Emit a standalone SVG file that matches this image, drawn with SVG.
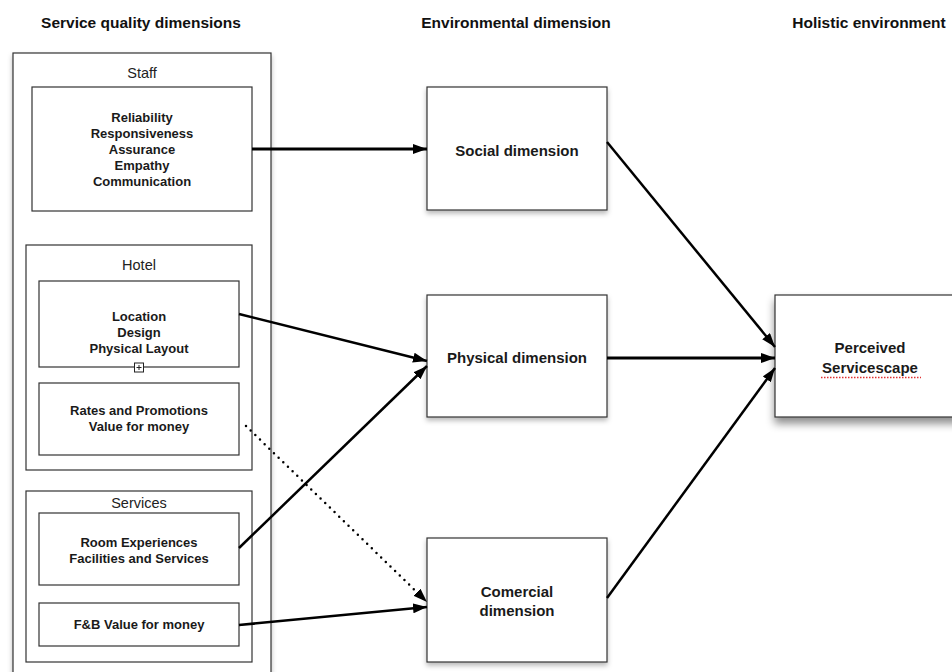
<svg xmlns="http://www.w3.org/2000/svg" width="952" height="672" viewBox="0 0 952 672">
  <style>
    .head { font-family: "Liberation Sans", Arial, sans-serif; font-size: 15.5px; font-weight: bold; fill: #111; text-anchor: middle; }
    .grp  { font-family: "Liberation Sans", Arial, sans-serif; font-size: 14.5px; fill: #222; text-anchor: middle; }
    .item { font-family: "Liberation Sans", Arial, sans-serif; font-size: 13px; font-weight: bold; fill: #1a1a1a; text-anchor: middle; }
    .dim  { font-family: "Liberation Sans", Arial, sans-serif; font-size: 15px; font-weight: bold; fill: #1a1a1a; text-anchor: middle; }
    .box  { fill: #fff; stroke: #333; stroke-width: 1.2; }
    .shadow { filter: url(#soft); }
    .deep { filter: url(#deep); }
    .link { fill: none; stroke: #000; stroke-width: 2.5; marker-end: url(#arrow); }
    .thick { stroke-width: 3; }
    .dotted { fill: none; stroke: #000; stroke-width: 2.5; stroke-linecap: round; stroke-dasharray: 0 6.5; marker-end: url(#arrow); }
  </style>
  <defs>
    <filter id="soft" x="-10%" y="-10%" width="130%" height="130%">
      <feDropShadow dx="0" dy="3" stdDeviation="2.5" flood-color="#000" flood-opacity="0.28"/>
    </filter>
    <filter id="deep" x="-10%" y="-10%" width="130%" height="140%">
      <feDropShadow dx="0" dy="6" stdDeviation="4" flood-color="#000" flood-opacity="0.45"/>
    </filter>
    <marker id="arrow" viewBox="0 0 14 10" refX="14" refY="5" markerWidth="14" markerHeight="10" markerUnits="userSpaceOnUse" orient="auto">
      <path d="M0,0 L14,5 L0,10 z" fill="#000"/>
    </marker>
  </defs>

  <rect width="952" height="672" fill="#fff"/>

  <!-- column headings -->
  <text class="head" x="141" y="28">Service quality dimensions</text>
  <text class="head" x="516" y="28">Environmental dimension</text>
  <text class="head" x="869" y="28">Holistic environment</text>

  <!-- left column: service quality dimensions -->
  <g id="service-quality">
    <rect class="box shadow" x="13" y="53" width="258" height="640"/>
  </g>

  <g id="staff">
    <text class="grp" x="142" y="78">Staff</text>
    <rect class="box" x="32" y="87" width="220" height="124"/>
    <text class="item" x="142" y="122">Reliability</text>
    <text class="item" x="142" y="138">Responsiveness</text>
    <text class="item" x="142" y="154">Assurance</text>
    <text class="item" x="142" y="170">Empathy</text>
    <text class="item" x="142" y="186">Communication</text>
  </g>

  <g id="hotel">
    <rect class="box" x="26" y="245" width="226" height="225"/>
    <text class="grp" x="139" y="270">Hotel</text>
  </g>

  <g id="hotel-physical">
    <rect class="box" x="39" y="281" width="200" height="86"/>
    <text class="item" x="139" y="321">Location</text>
    <text class="item" x="139" y="337">Design</text>
    <text class="item" x="139" y="353">Physical Layout</text>
    <!-- collapse toggle -->
    <rect x="134.5" y="363" width="9" height="9" fill="#fff" stroke="#222" stroke-width="1"/>
    <path d="M136.5,367.5 H141.5 M139,365 V370" stroke="#222" stroke-width="1"/>
  </g>

  <g id="hotel-rates">
    <rect class="box" x="39" y="383" width="200" height="72"/>
    <text class="item" x="139" y="415">Rates and Promotions</text>
    <text class="item" x="139" y="431">Value for money</text>
  </g>

  <g id="services">
    <rect class="box" x="26" y="491" width="226" height="171"/>
    <text class="grp" x="139" y="508">Services</text>
  </g>

  <g id="services-rooms">
    <rect class="box" x="39" y="513" width="200" height="72"/>
    <text class="item" x="139" y="547">Room Experiences</text>
    <text class="item" x="139" y="563">Facilities and Services</text>
  </g>

  <g id="services-fb">
    <rect class="box" x="39" y="603" width="200" height="43"/>
    <text class="item" x="139" y="629">F&amp;B Value for money</text>
  </g>

  <!-- middle column: environmental dimensions -->
  <g id="social">
    <rect class="box shadow" x="427" y="87" width="180" height="123"/>
    <text class="dim" x="517" y="156">Social dimension</text>
  </g>

  <g id="physical">
    <rect class="box shadow" x="427" y="295" width="180" height="122"/>
    <text class="dim" x="517" y="363">Physical dimension</text>
  </g>

  <g id="commercial">
    <rect class="box shadow" x="427" y="538" width="180" height="124"/>
    <text class="dim" x="517" y="597">Comercial</text>
    <text class="dim" x="517" y="616">dimension</text>
  </g>

  <!-- right column: holistic environment -->
  <g id="servicescape">
    <rect class="box deep" x="775" y="295" width="200" height="122"/>
    <text class="dim" x="870" y="353">Perceived</text>
    <text class="dim" x="870" y="373">Servicescape</text>
    <line x1="821" y1="377.5" x2="921" y2="377.5" stroke="#e03030" stroke-width="1.5" stroke-dasharray="1.5 1.5"/>
  </g>

  <!-- connectors -->
  <g id="connectors">
    <path class="link thick" d="M252,149 L427,149"/>
    <path class="link" d="M239,314 L427,361"/>
    <path class="link" d="M239,548 L427,366"/>
    <path class="dotted" d="M246,426 L427,602"/>
    <path class="link" d="M239,625 L427,607"/>
    <path class="link" d="M607,142 L775,347"/>
    <path class="link thick" d="M607,358 L775,358"/>
    <path class="link" d="M607,598 L775,368"/>
  </g>
</svg>
